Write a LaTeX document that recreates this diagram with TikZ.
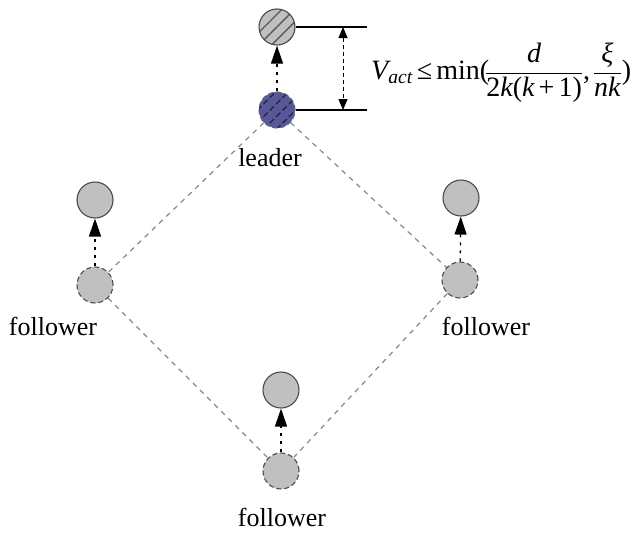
\documentclass[tikz,border=0pt]{standalone}
\usepackage{amsmath}
\usepackage{fontspec}
\setmainfont{Liberation Serif}
\usetikzlibrary{arrows.meta,patterns.meta}
\definecolor{cfill}{RGB}{192,192,192}
\definecolor{cedge}{RGB}{75,75,75}
\definecolor{lfill}{RGB}{88,88,150}
\definecolor{lhatch}{RGB}{30,30,75}
\definecolor{ldash}{RGB}{135,135,135}
\begin{document}
\begin{tikzpicture}[x=1pt,y=-1pt,
  posn/.style={circle, minimum size=36pt, inner sep=0pt, fill=cfill, draw=cedge, line width=1.1pt},
  oldpos/.style={posn, dash pattern=on 5pt off 3pt},
  lbl/.style={font=\rmfamily\fontsize{26}{30}\selectfont, inner sep=0pt},
  link/.style={draw=ldash, line width=1.2pt, dash pattern=on 5pt off 5pt},
  move/.style={line width=1.3pt, dash pattern=on 3pt off 5pt, -{Triangle[length=18pt,width=12pt]}},
  gap/.style={line width=1pt, dash pattern=on 4pt off 3pt, {Triangle[length=11pt,width=9pt]}-{Triangle[length=11pt,width=9pt]}},
]
\useasboundingbox[fill=white] (0,0) rectangle (642,533);
% leader
\node[circle, minimum size=36pt, inner sep=0pt, draw=cedge, line width=1.1pt,
      preaction={fill=cfill}, pattern={Lines[angle=45,distance=9pt,line width=1.3pt]}, pattern color=black!65] (lnew) at (277,27) {};
\node[circle, minimum size=36pt, inner sep=0pt, draw=lhatch!70, line width=1.1pt, dash pattern=on 5pt off 3pt,
      preaction={fill=lfill}, pattern={Lines[angle=45,distance=9pt,line width=1.3pt]}, pattern color=lhatch] (lold) at (277,110) {};
% followers
\node[oldpos] (f1old) at (95,285) {};
\node[posn] (f1new) at (95,200) {};
\node[oldpos] (f2old) at (460,280) {};
\node[posn] (f2new) at (461,198) {};
\node[oldpos] (f3old) at (281,471) {};
\node[posn] (f3new) at (281,390) {};
% formation links
\draw[link] (lold) -- (f1old);
\draw[link] (lold) -- (f2old);
\draw[link] (f1old) -- (f3old);
\draw[link] (f2old) -- (f3old);
% moves
\draw[move] (lold) -- (lnew);
\draw[move] (f1old) -- (f1new);
\draw[move] (f2old) -- (f2new);
\draw[move] (f3old) -- (f3new);
% gap measurement
\coordinate (t1) at (367,27);
\coordinate (t2) at (367,110);
\coordinate (g1) at (343,27);
\coordinate (g2) at (343,110);
\draw[line width=1.2pt] (lnew.east) -- (t1);
\draw[line width=1.2pt] (lold.east) -- (t2);
\draw[gap] (g1) -- (g2);
\node[anchor=west, inner sep=0pt, font=\rmfamily\fontsize{28}{32}\selectfont] (formula) at (371,73)
  {$\textit{V}_{\textit{act}}\,\text{≤}\,\text{min(}\!\dfrac{\textit{d}}{\text{2}\textit{k}\text{(}\textit{k}\,\text{+}\,\text{1)}}\text{, }\!\dfrac{\textit{ξ}}{\textit{nk}}\text{)}$};
% labels
\node[lbl] (lleader) at (270,158) {leader};
\node[lbl] (lf1) at (53,326) {follower};
\node[lbl] (lf2) at (486,326) {follower};
\node[lbl] (lf3) at (282,517) {follower};
\end{tikzpicture}
\end{document}
